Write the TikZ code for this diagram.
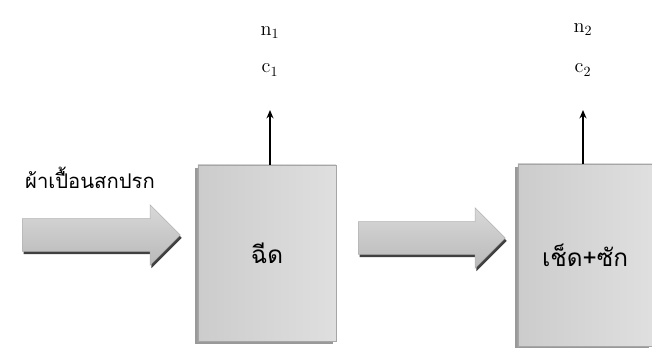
\documentclass[tikz,border=0pt]{standalone}
\usepackage{fontspec}
\newfontfamily\thaifont[Script=Thai]{Loma}
\usetikzlibrary{arrows.meta,positioning,shapes.arrows,shadows}

\begin{document}
\begin{tikzpicture}[x=0.025cm,y=-0.025cm,>=Stealth,
  tank/.style={rectangle,draw=gray!70,left color=gray!40,right color=gray!25,
    minimum width=3.45cm,minimum height=4.4cm,inner sep=0pt,
    general shadow={fill=gray!80,shadow xshift=-2pt,shadow yshift=-2pt},font=\thaifont\LARGE},
  flow/.style={single arrow,draw=gray!60,top color=gray!30,bottom color=gray!55,
    single arrow head extend=0.35cm,minimum height=3.95cm,anchor=tail,
    inner xsep=0pt,inner ysep=0.4cm,general shadow={fill=black!75,shadow xshift=1pt,shadow yshift=-2pt}},
  vent/.style={->,line width=1pt,>={Stealth[length=6pt,width=5pt]}},
  lbl/.style={font=\Large}]
\useasboundingbox (0,0) rectangle (652,348);
% feed
\node[font=\thaifont\Large] (feed) at (90,178) {ผ้าเปื้อนสกปรก};
\node[flow] (a1) at (22,235) {};
% first stage
\node[tank] (spray) at (267,253) {ฉีด};
\node[lbl] (n1) at (270,33) {$\mathrm{n}_1$};
\node[lbl] (c1) at (270,70) {$\mathrm{c}_1$};
\coordinate (t1) at (270,110);
\draw[vent] (spray.north -| t1) -- (t1);
% second stage
\node[flow,minimum height=3.675cm] (a2) at (358,238) {};
\node[tank,minimum width=3.35cm,minimum height=4.55cm] (wash) at (585,255) {เช็ด+ซัก};
\node[lbl] (n2) at (583,30) {$\mathrm{n}_2$};
\node[lbl] (c2) at (583,70) {$\mathrm{c}_2$};
\coordinate (t2) at (583,110);
\draw[vent] (wash.north -| t2) -- (t2);
\end{tikzpicture}
\end{document}
